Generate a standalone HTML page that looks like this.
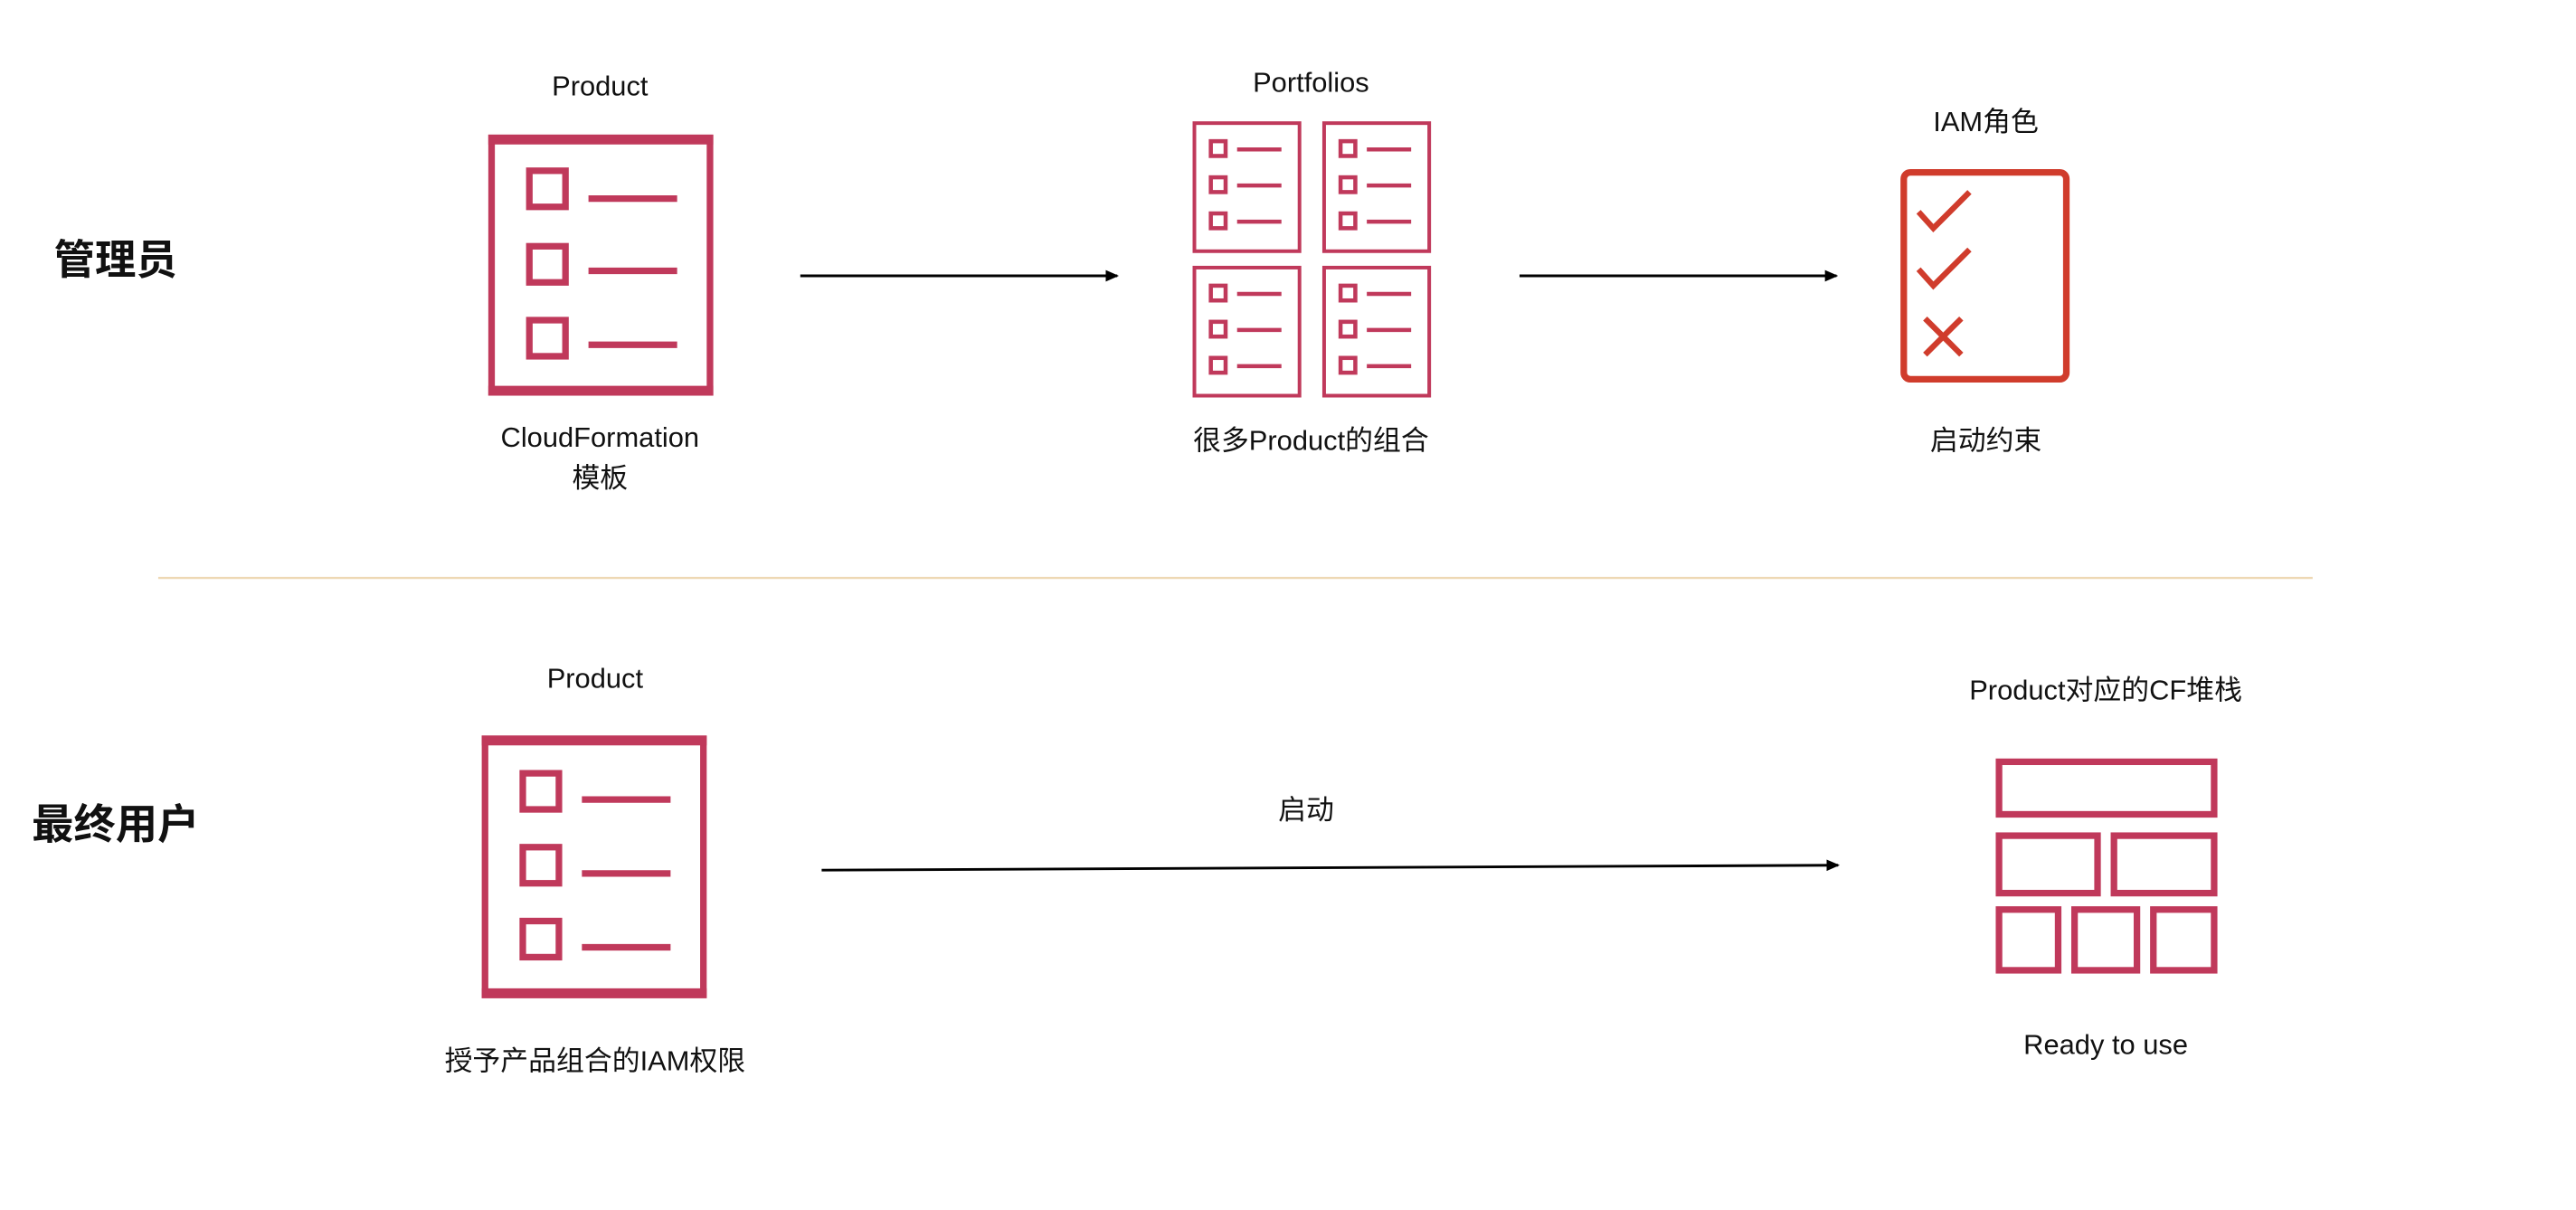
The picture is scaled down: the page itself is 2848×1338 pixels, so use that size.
<!DOCTYPE html>
<html><head><meta charset="utf-8"><style>
html,body{margin:0;padding:0;background:#fff;}
svg{display:block;}
text{font-family:"Liberation Sans","Noto Sans CJK SC",sans-serif;fill:#111;}
</style></head><body>
<svg width="2848" height="1338" viewBox="0 0 1568 737" xmlns="http://www.w3.org/2000/svg">
<defs>
<marker id="ah" markerWidth="8" markerHeight="8" refX="7" refY="4" orient="auto" markerUnits="userSpaceOnUse">
<path d="M0,0.5 L8,4 L0,7.5 z" fill="#000"/></marker>
</defs>
<g text-anchor="middle" font-size="17">
<text x="70" y="167" font-size="25" font-weight="bold">管理员</text>
<text x="70" y="511" font-size="25.5" font-weight="bold">最终用户</text>
<text x="365" y="58">Product</text>
<text x="365" y="272">CloudFormation</text>
<text x="365" y="297">模板</text>
<text x="798" y="56">Portfolios</text>
<text x="798" y="274">很多Product的组合</text>
<text x="1209" y="80">IAM角色</text>
<text x="1209" y="274">启动约束</text>
<text x="362" y="419">Product</text>
<text x="362" y="652">授予产品组合的IAM权限</text>
<text x="795" y="499">启动</text>
<text x="1282" y="426">Product对应的CF堆栈</text>
<text x="1282" y="642">Ready to use</text>
</g>
<g stroke="#000" stroke-width="1.6" fill="none">
<line x1="487" y1="168" x2="680" y2="168" marker-end="url(#ah)"/>
<line x1="925" y1="168" x2="1118" y2="168" marker-end="url(#ah)"/>
<line x1="500" y1="530" x2="1119" y2="527" marker-end="url(#ah)"/>
</g>
<line x1="96" y1="352" x2="1408" y2="352" stroke="#eed8b4" stroke-width="1.3"/>
<g stroke="#c0395b" fill="none">
<rect x="299" y="84" width="133" height="155" stroke-width="4"/>
<line x1="297" y1="85" x2="434" y2="85" stroke-width="6"/>
<line x1="297" y1="238" x2="434" y2="238" stroke-width="6"/>
<g stroke-width="4">
<rect x="322" y="104" width="22" height="22"/><line x1="358" y1="121" x2="412" y2="121"/>
<rect x="322" y="150" width="22" height="22"/><line x1="358" y1="165" x2="412" y2="165"/>
<rect x="322" y="195" width="22" height="22"/><line x1="358" y1="210" x2="412" y2="210"/>
</g>
<rect x="295" y="450" width="133" height="156" stroke-width="4"/>
<line x1="293" y1="451" x2="430" y2="451" stroke-width="6"/>
<line x1="293" y1="605" x2="430" y2="605" stroke-width="6"/>
<g stroke-width="4">
<rect x="318" y="471" width="22" height="22"/><line x1="354" y1="487" x2="408" y2="487"/>
<rect x="318" y="516" width="22" height="22"/><line x1="354" y1="532" x2="408" y2="532"/>
<rect x="318" y="561" width="22" height="22"/><line x1="354" y1="577" x2="408" y2="577"/>
</g>
<g stroke-width="2.2">
<rect x="727" y="75" width="64" height="78"/>
<rect x="806" y="75" width="64" height="78"/>
<rect x="727" y="163" width="64" height="78"/>
<rect x="806" y="163" width="64" height="78"/>
</g>
<g stroke-width="2.5">
<rect x="737" y="86" width="9" height="9"/><line x1="753" y1="91" x2="780" y2="91"/>
<rect x="737" y="108" width="9" height="9"/><line x1="753" y1="113" x2="780" y2="113"/>
<rect x="737" y="130" width="9" height="9"/><line x1="753" y1="135" x2="780" y2="135"/>
<rect x="816" y="86" width="9" height="9"/><line x1="832" y1="91" x2="859" y2="91"/>
<rect x="816" y="108" width="9" height="9"/><line x1="832" y1="113" x2="859" y2="113"/>
<rect x="816" y="130" width="9" height="9"/><line x1="832" y1="135" x2="859" y2="135"/>
<rect x="737" y="174" width="9" height="9"/><line x1="753" y1="179" x2="780" y2="179"/>
<rect x="737" y="196" width="9" height="9"/><line x1="753" y1="201" x2="780" y2="201"/>
<rect x="737" y="218" width="9" height="9"/><line x1="753" y1="223" x2="780" y2="223"/>
<rect x="816" y="174" width="9" height="9"/><line x1="832" y1="179" x2="859" y2="179"/>
<rect x="816" y="196" width="9" height="9"/><line x1="832" y1="201" x2="859" y2="201"/>
<rect x="816" y="218" width="9" height="9"/><line x1="832" y1="223" x2="859" y2="223"/>
</g>
<g stroke-width="4">
<rect x="1217" y="464" width="131" height="32"/>
<rect x="1217" y="509" width="60" height="35"/>
<rect x="1287" y="509" width="61" height="35"/>
<rect x="1217" y="554" width="36" height="37"/>
<rect x="1263" y="554" width="38" height="37"/>
<rect x="1311" y="554" width="37" height="37"/>
</g>
</g>
<g stroke="#d03c2c" fill="none" stroke-width="4">
<rect x="1159" y="105" width="99" height="126" rx="4"/>
<polyline points="1168,129 1177,139 1199,117" stroke-width="3.5"/>
<polyline points="1168,164 1177,174 1199,152" stroke-width="3.5"/>
<line x1="1172" y1="194" x2="1194" y2="216" stroke-width="3.5"/>
<line x1="1194" y1="194" x2="1172" y2="216" stroke-width="3.5"/>
</g>
</svg>
</body></html>
